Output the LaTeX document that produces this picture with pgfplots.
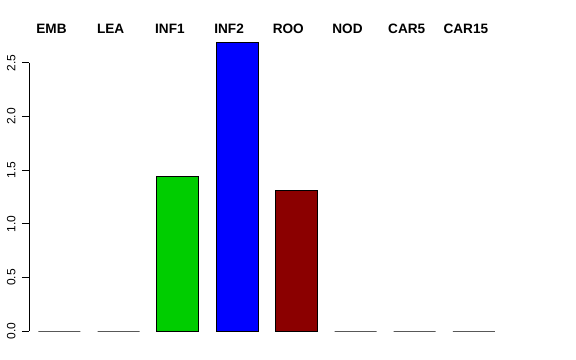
\documentclass[border=0pt]{standalone}
\usepackage{fontspec}
\setmainfont{Liberation Sans}
\usepackage{pgfplots}
\pgfplotsset{compat=1.18}
\definecolor{rgreen}{RGB}{0,205,0}
\definecolor{rblue}{RGB}{0,0,255}
\definecolor{rdred}{RGB}{139,0,0}
\begin{document}
\begin{tikzpicture}
\useasboundingbox (0,0) rectangle (576bp,360bp);
\begin{axis}[
  at={(29bp,29bp)}, anchor=south west,
  scale only axis,
  width=474.5bp, height=268.25bp,
  xmin=-0.515, xmax=7.5,
  ymin=0, ymax=2.5,
  clip=false,
  axis y line*=left,
  axis x line*=top,
  x axis line style={draw=none},
  y axis line style={line width=0.8bp, black},
  xtick={0,1,2,3,4,5,6,7},
  xticklabels={EMB,LEA,INF1,INF2,ROO,NOD,CAR5,CAR15},
  xtick style={draw=none},
  xticklabel style={font=\fontsize{13.6bp}{16bp}\selectfont\bfseries, anchor=base, yshift=22bp, xshift=-8bp},
  ytick={0,0.5,1,1.5,2,2.5},
  yticklabels={0.0,0.5,1.0,1.5,2.0,2.5},
  ytick style={line width=0.8bp, black},
  tick align=outside,
  major tick length=7bp,
  yticklabel shift=3bp,
  yticklabel style={font=\fontsize{12bp}{14bp}\selectfont, rotate=90, anchor=south},
  ybar, bar width=42bp, bar shift=0pt,
]
\addplot[draw=black, line width=1bp, fill=white] coordinates {(0,0) (1,0) (5,0) (6,0) (7,0)};
\addplot[draw=black, line width=1bp, fill=rgreen] coordinates {(2,1.438)};
\addplot[draw=black, line width=1bp, fill=rblue] coordinates {(3,2.687)};
\addplot[draw=black, line width=1bp, fill=rdred] coordinates {(4,1.308)};
\end{axis}
\end{tikzpicture}
\end{document}
